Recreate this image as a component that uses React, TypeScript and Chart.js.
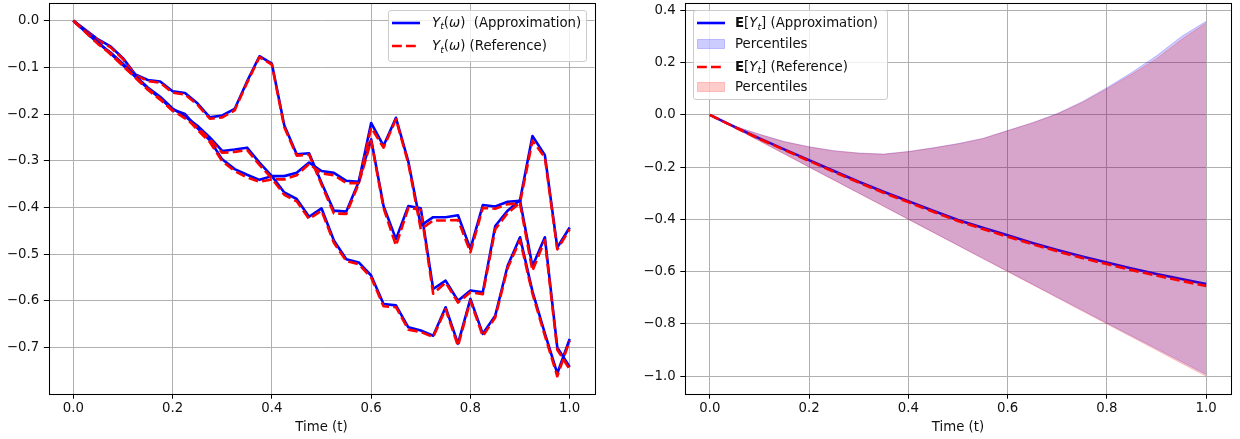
import React, { useEffect, useRef } from "react";
import { Chart, registerables } from "chart.js";

Chart.register(...registerables);

// ---------------- data ----------------
const timeGrid = [
  0, 0.025, 0.05, 0.075, 0.1, 0.125, 0.15, 0.175, 0.2, 0.225, 0.25, 0.275, 0.3, 0.325, 0.35, 0.375, 0.4,
  0.425, 0.45, 0.475, 0.5, 0.525, 0.55, 0.575, 0.6, 0.625, 0.65, 0.675, 0.7, 0.725, 0.75, 0.775, 0.8,
  0.825, 0.85, 0.875, 0.9, 0.925, 0.95, 0.975, 1.0,
];

const pathA_approx = [0, -0.020, -0.040, -0.055, -0.080, -0.115, -0.127, -0.130, -0.151, -0.155, -0.177, -0.207, -0.203, -0.189, -0.130, -0.076, -0.092, -0.224, -0.286, -0.284, -0.347, -0.407, -0.409, -0.345, -0.254, -0.397, -0.468, -0.397, -0.402, -0.575, -0.557, -0.600, -0.578, -0.582, -0.440, -0.407, -0.384, -0.247, -0.288, -0.486, -0.443];
const pathA_ref = [0, -0.021, -0.042, -0.057, -0.082, -0.117, -0.129, -0.133, -0.154, -0.158, -0.180, -0.210, -0.207, -0.192, -0.133, -0.078, -0.094, -0.228, -0.289, -0.287, -0.351, -0.413, -0.414, -0.349, -0.257, -0.401, -0.482, -0.401, -0.405, -0.585, -0.561, -0.604, -0.582, -0.586, -0.447, -0.412, -0.390, -0.257, -0.293, -0.490, -0.447];

const pathB_approx = [0, -0.022, -0.046, -0.070, -0.095, -0.120, -0.145, -0.166, -0.190, -0.200, -0.230, -0.256, -0.297, -0.318, -0.330, -0.341, -0.333, -0.333, -0.326, -0.304, -0.322, -0.326, -0.343, -0.345, -0.219, -0.268, -0.208, -0.302, -0.439, -0.421, -0.421, -0.417, -0.489, -0.395, -0.398, -0.388, -0.386, -0.526, -0.464, -0.700, -0.742];
const pathB_ref = [0, -0.023, -0.048, -0.072, -0.097, -0.122, -0.148, -0.169, -0.193, -0.204, -0.234, -0.260, -0.301, -0.322, -0.336, -0.345, -0.340, -0.340, -0.331, -0.307, -0.327, -0.331, -0.348, -0.348, -0.229, -0.272, -0.211, -0.306, -0.447, -0.428, -0.428, -0.427, -0.496, -0.401, -0.403, -0.393, -0.392, -0.536, -0.470, -0.705, -0.747];

const pathC_approx = [0, -0.024, -0.048, -0.068, -0.092, -0.118, -0.143, -0.163, -0.188, -0.205, -0.225, -0.250, -0.279, -0.276, -0.272, -0.304, -0.333, -0.368, -0.382, -0.420, -0.402, -0.471, -0.511, -0.518, -0.546, -0.607, -0.610, -0.657, -0.664, -0.675, -0.614, -0.692, -0.596, -0.671, -0.632, -0.525, -0.464, -0.580, -0.670, -0.756, -0.682];
const pathC_ref = [0, -0.025, -0.050, -0.070, -0.095, -0.121, -0.146, -0.167, -0.192, -0.209, -0.229, -0.254, -0.283, -0.281, -0.277, -0.309, -0.338, -0.373, -0.387, -0.425, -0.407, -0.476, -0.515, -0.522, -0.550, -0.612, -0.614, -0.662, -0.667, -0.678, -0.618, -0.697, -0.600, -0.676, -0.636, -0.530, -0.470, -0.585, -0.675, -0.762, -0.686];

const bandTimes = [0, 0.05, 0.1, 0.15, 0.2, 0.25, 0.3, 0.35, 0.4, 0.45, 0.5, 0.55, 0.6, 0.65, 0.7, 0.75, 0.8, 0.85, 0.9, 0.95, 1.0];
const meanApprox = [0, -0.046, -0.090, -0.132, -0.173, -0.215, -0.256, -0.294, -0.330, -0.367, -0.402, -0.432, -0.461, -0.490, -0.517, -0.542, -0.565, -0.588, -0.609, -0.628, -0.647];
const meanRef = [0, -0.047, -0.092, -0.134, -0.176, -0.218, -0.259, -0.298, -0.334, -0.371, -0.406, -0.437, -0.466, -0.495, -0.522, -0.548, -0.571, -0.594, -0.615, -0.635, -0.655];
const upperApprox = [0, -0.043, -0.074, -0.102, -0.122, -0.137, -0.146, -0.150, -0.140, -0.126, -0.110, -0.090, -0.060, -0.030, 0.005, 0.050, 0.104, 0.162, 0.226, 0.300, 0.358];
const upperRef = [0, -0.044, -0.075, -0.103, -0.123, -0.138, -0.147, -0.151, -0.141, -0.127, -0.111, -0.091, -0.061, -0.031, 0.003, 0.047, 0.100, 0.155, 0.215, 0.288, 0.352];
const lowerApprox = [0, -0.049, -0.099, -0.149, -0.199, -0.249, -0.299, -0.349, -0.399, -0.449, -0.499, -0.549, -0.598, -0.648, -0.698, -0.747, -0.797, -0.846, -0.895, -0.944, -0.993];
const lowerRef = [0, -0.050, -0.100, -0.150, -0.200, -0.250, -0.300, -0.350, -0.400, -0.450, -0.500, -0.550, -0.600, -0.650, -0.700, -0.750, -0.800, -0.850, -0.900, -0.950, -1.000];

const xTickValues = [0, 0.2, 0.4, 0.6, 0.8, 1.0];
const yTicksLeft = [0, -0.1, -0.2, -0.3, -0.4, -0.5, -0.6, -0.7];
const yTicksRight = [0.4, 0.2, 0, -0.2, -0.4, -0.6, -0.8, -1.0];

// ---------------- styles ----------------
const FONT = "'DejaVu Sans'";
const FONT_SIZE = 13.3;
const TEXT = "#111111";
const GRID = "#b0b0b0";
const BLUE = "#0000ff";
const RED = "#ff0000";
const LW = 2.6;
const DASH = [9.8, 4.2];

Chart.defaults.font.family = FONT;
Chart.defaults.font.size = FONT_SIZE;
Chart.defaults.color = TEXT;

const fmt = (v: number) => (Math.abs(v) < 1e-9 ? "0.0" : Number(v).toFixed(1).replace("-", "\u2212"));
const pts = (xs: number[], ys: number[]) => xs.map((x, i) => ({ x, y: ys[i] }));

const framePlugin = {
  id: "frame",
  afterDatasetsDraw(chart: any) {
    const { ctx, chartArea } = chart;
    const l = Math.round(chartArea.left) + 0.5;
    const t = Math.round(chartArea.top) + 0.5;
    const r = Math.round(chartArea.right) + 0.5;
    const b = Math.round(chartArea.bottom) + 0.5;
    ctx.save();
    ctx.strokeStyle = "#000";
    ctx.lineWidth = 1.05;
    ctx.strokeRect(l, t, r - l, b - t);
    ctx.restore();
  },
};

function xScale() {
  return {
    type: "linear",
    min: -0.05,
    max: 1.05,
    afterBuildTicks: (s: any) => {
      s.ticks = xTickValues.map((value) => ({ value }));
    },
    afterFit: (s: any) => {
      s.height = 45;
      s.paddingLeft = 0;
      s.paddingRight = 0;
    },
    ticks: { callback: (v: any) => fmt(v), color: TEXT, padding: 2, maxRotation: 0, autoSkip: false },
    grid: { color: GRID, lineWidth: 1, tickColor: "#000", tickLength: 4.7, drawTicks: true },
    border: { display: false },
    title: { display: true, text: "Time (t)", color: TEXT, padding: { top: 0, bottom: 3.5 } },
  };
}

function yScale(min: number, max: number, tickVals: number[], width: number) {
  return {
    type: "linear",
    min,
    max,
    afterBuildTicks: (s: any) => {
      s.ticks = tickVals.map((value) => ({ value }));
    },
    afterFit: (s: any) => {
      s.width = width;
      s.paddingTop = 0;
      s.paddingBottom = 0;
    },
    ticks: { callback: (v: any) => fmt(v), color: TEXT, padding: 4.7, autoSkip: false },
    grid: { color: GRID, lineWidth: 1, tickColor: "#000", tickLength: 4.7, drawTicks: true },
    border: { display: false },
  };
}

function baseOptions(padRight: number, yMin: number, yMax: number, yTicks: number[], yWidth: number) {
  return {
    responsive: false,
    animation: false,
    events: [],
    layout: { padding: { top: 3, right: padRight, bottom: 0, left: 0 } },
    plugins: { legend: { display: false }, tooltip: { enabled: false } },
    scales: { x: xScale(), y: yScale(yMin, yMax, yTicks, yWidth) },
  };
}

function pathsConfig() {
  const paths = [
    [pathA_approx, pathA_ref],
    [pathB_approx, pathB_ref],
    [pathC_approx, pathC_ref],
  ];
  const datasets: any[] = [];
  paths.forEach(([ap, rf], i) => {
    datasets.push({
      label: "approx",
      data: pts(timeGrid, ap),
      borderColor: BLUE,
      borderWidth: LW,
      pointRadius: 0,
      tension: 0,
      fill: false,
      borderJoinStyle: "round",
      order: 6 - 2 * i,
    });
    datasets.push({
      label: "ref",
      data: pts(timeGrid, rf),
      borderColor: RED,
      borderWidth: LW,
      borderDash: DASH,
      pointRadius: 0,
      tension: 0,
      fill: false,
      borderJoinStyle: "round",
      order: 5 - 2 * i,
    });
  });
  return {
    type: "line",
    data: { datasets },
    options: baseOptions(25.5, -0.8, 0.0381, yTicksLeft, 48.5),
    plugins: [framePlugin],
  };
}

function meanConfig() {
  const datasets: any[] = [
    {
      data: pts(bandTimes, meanApprox),
      borderColor: BLUE,
      borderWidth: LW,
      pointRadius: 0,
      fill: false,
      order: 10,
    },
    {
      data: pts(bandTimes, upperApprox),
      borderColor: "rgba(0,0,255,0.2)",
      backgroundColor: "rgba(0,0,255,0.2)",
      borderWidth: 1,
      pointRadius: 0,
      fill: "+1",
      order: 9,
    },
    {
      data: pts(bandTimes, lowerApprox),
      borderColor: "rgba(0,0,255,0.2)",
      borderWidth: 1,
      pointRadius: 0,
      fill: false,
      order: 8,
    },
    {
      data: pts(bandTimes, meanRef),
      borderColor: RED,
      borderWidth: LW,
      borderDash: DASH,
      pointRadius: 0,
      fill: false,
      order: 7,
    },
    {
      data: pts(bandTimes, upperRef),
      borderColor: "rgba(255,0,0,0.2)",
      backgroundColor: "rgba(255,0,0,0.2)",
      borderWidth: 1,
      pointRadius: 0,
      fill: "+1",
      order: 6,
    },
    {
      data: pts(bandTimes, lowerRef),
      borderColor: "rgba(255,0,0,0.2)",
      borderWidth: 1,
      pointRadius: 0,
      fill: false,
      order: 5,
    },
  ];
  return {
    type: "line",
    data: { datasets },
    options: baseOptions(9, -1.068, 0.428, yTicksRight, 65),
    plugins: [framePlugin],
  };
}

function ChartCanvas({ left, make }: { left: number; make: () => any }) {
  const ref = useRef<HTMLCanvasElement>(null);
  useEffect(() => {
    const chart = new Chart(ref.current as HTMLCanvasElement, make());
    return () => chart.destroy();
  }, []);
  return (
    <canvas
      ref={ref}
      width={620}
      height={439}
      style={{ position: "absolute", left, top: 0, width: 620, height: 439 }}
    />
  );
}

// ---------------- legends ----------------
const It = ({ children }: { children: any }) => <span style={{ fontStyle: "italic" }}>{children}</span>;
const Sub = ({ children }: { children: any }) => (
  <span style={{ fontStyle: "italic", fontSize: "9.4px", position: "relative", top: "2.6px" }}>{children}</span>
);

type Row = { kind: "line" | "dash" | "patch"; color: string; label: any; cy: number };

function Handle({ kind, color }: { kind: string; color: string }) {
  if (kind === "patch") {
    const fill = color === BLUE ? "rgba(0,0,255,0.2)" : "rgba(255,0,0,0.2)";
    return (
      <svg width={28} height={12} style={{ display: "block" }}>
        <rect x={0.5} y={1.5} width={27} height={9} fill={fill} stroke={fill} strokeWidth={1} />
      </svg>
    );
  }
  return (
    <svg width={28} height={12} style={{ display: "block" }}>
      <line
        x1={0}
        y1={6}
        x2={28}
        y2={6}
        stroke={color}
        strokeWidth={LW}
        strokeDasharray={kind === "dash" ? DASH.join(" ") : undefined}
      />
    </svg>
  );
}

function LegendBox({ left, top, width, height, rows, textX }: { left: number; top: number; width: number; height: number; rows: Row[]; textX: number }) {
  return (
    <div
      style={{
        position: "absolute",
        left,
        top,
        width,
        height,
        boxSizing: "border-box",
        background: "rgba(255,255,255,0.8)",
        border: "1px solid #cccccc",
        borderRadius: 3,
      }}
    >
      {rows.map((r, i) => (
        <React.Fragment key={i}>
          <div style={{ position: "absolute", left: 3, top: r.cy - 6 }}>
            <Handle kind={r.kind} color={r.color} />
          </div>
          <div
            style={{
              position: "absolute",
              left: textX,
              top: r.cy - 8,
              lineHeight: "16px",
              height: 16,
              fontSize: FONT_SIZE,
              fontFamily: FONT,
              color: TEXT,
              whiteSpace: "pre",
            }}
          >
            {r.label}
          </div>
        </React.Fragment>
      ))}
    </div>
  );
}

const leftLegendRows: Row[] = [
  {
    kind: "line",
    color: BLUE,
    cy: 11.7,
    label: (
      <>
        <It>Y</It>
        <Sub>t</Sub>(<It>ω</It>){"  (Approximation)"}
      </>
    ),
  },
  {
    kind: "dash",
    color: RED,
    cy: 35,
    label: (
      <>
        <It>Y</It>
        <Sub>t</Sub>(<It>ω</It>){" (Reference)"}
      </>
    ),
  },
];

const rightLegendRows: Row[] = [
  {
    kind: "line",
    color: BLUE,
    cy: 12.3,
    label: (
      <>
        <b>E</b>[<It>Y</It>
        <Sub>t</Sub>]{" (Approximation)"}
      </>
    ),
  },
  { kind: "patch", color: BLUE, cy: 33.3, label: "Percentiles" },
  {
    kind: "dash",
    color: RED,
    cy: 55.7,
    label: (
      <>
        <b>E</b>[<It>Y</It>
        <Sub>t</Sub>]{" (Reference)"}
      </>
    ),
  },
  { kind: "patch", color: RED, cy: 76.3, label: "Percentiles" },
];

export default function App() {
  return (
    <div
      style={{
        position: "absolute",
        left: 0,
        top: 0,
        width: 1240,
        height: 439,
        background: "#ffffff",
        overflow: "hidden",
      }}
    >
      <ChartCanvas left={0} make={pathsConfig} />
      <ChartCanvas left={620} make={meanConfig} />
      <LegendBox left={388} top={10} width={199} height={52} rows={leftLegendRows} textX={43} />
      <LegendBox left={693} top={10} width={195} height={90} rows={rightLegendRows} textX={41} />
    </div>
  );
}
